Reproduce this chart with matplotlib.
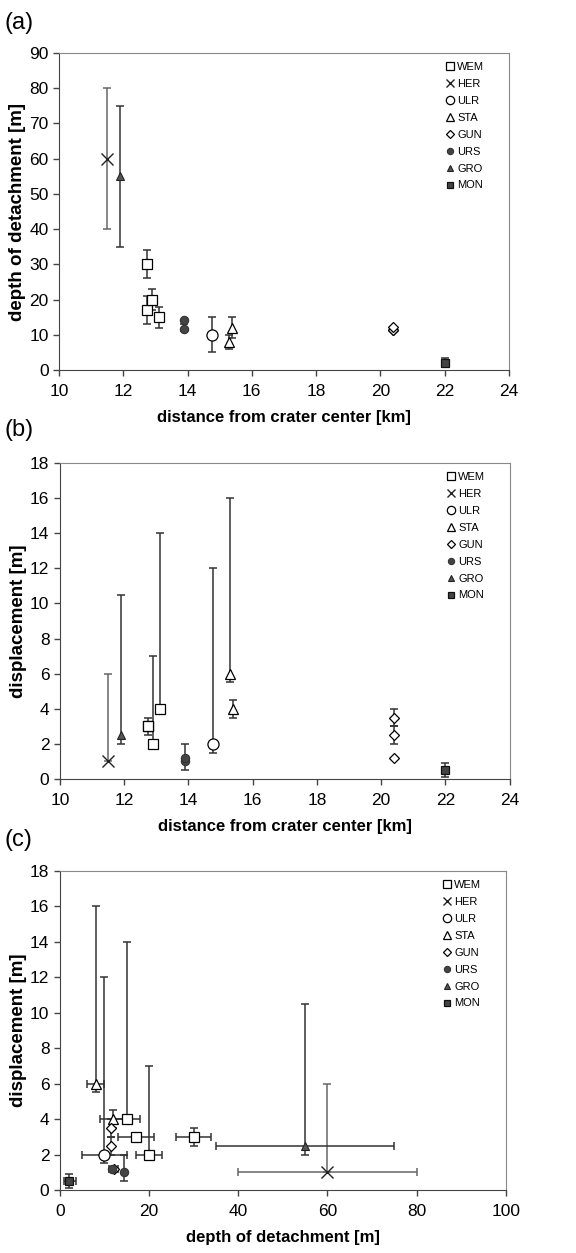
import matplotlib
matplotlib.use("Agg")
import matplotlib.pyplot as plt

plt.rcParams['font.family'] = ['Liberation Sans', 'DejaVu Sans']

# site data: distance [km], depth of detachment [m] (+range), displacement [m] (+range)
sites = ['WEM', 'HER', 'ULR', 'STA', 'GUN', 'URS', 'GRO', 'MON']

dist = {
    'WEM': [12.75, 12.75, 12.9, 13.1],
    'HER': [11.5],
    'ULR': [14.75],
    'STA': [15.3, 15.4],
    'GUN': [20.4, 20.4, 20.4],
    'URS': [13.9, 13.9],
    'GRO': [11.9],
    'MON': [22.0],
}
depth = {
    'WEM': [30, 17, 20, 15],
    'HER': [60],
    'ULR': [10],
    'STA': [8, 12],
    'GUN': [11.5, 11.5, 12.2],
    'URS': [14.3, 11.6],
    'GRO': [55],
    'MON': [2],
}
depth_lo = {
    'WEM': [26, 13, 17, 12],
    'HER': [40],
    'ULR': [5],
    'STA': [6, 9],
    'GUN': [11.5, 11.5, 12.2],
    'URS': [14.3, 11.0],
    'GRO': [35],
    'MON': [1],
}
depth_hi = {
    'WEM': [34, 21, 23, 18],
    'HER': [80],
    'ULR': [15],
    'STA': [10, 15],
    'GUN': [11.5, 11.5, 12.2],
    'URS': [14.3, 13.0],
    'GRO': [75],
    'MON': [3.5],
}
disp = {
    'WEM': [3, 3, 2, 4],
    'HER': [1],
    'ULR': [2],
    'STA': [6, 4],
    'GUN': [3.5, 2.5, 1.2],
    'URS': [1.0, 1.2],
    'GRO': [2.5],
    'MON': [0.5],
}
disp_lo = {
    'WEM': [2.5, 3, 2, 4],
    'HER': [1],
    'ULR': [1.5],
    'STA': [5.5, 3.5],
    'GUN': [3, 2, 1.2],
    'URS': [0.5, 1.2],
    'GRO': [2],
    'MON': [0.1],
}
disp_hi = {
    'WEM': [3.5, 3, 7, 14],
    'HER': [6],
    'ULR': [12],
    'STA': [16, 4.5],
    'GUN': [4, 3, 1.2],
    'URS': [2, 1.2],
    'GRO': [10.5],
    'MON': [0.9],
}

# marker styles
style = {
    'WEM': dict(marker='s', ms=7, mfc='white', mec='black', mew=0.9),
    'HER': dict(marker='x', ms=8, mfc='none', mec='#222222', mew=1.0),
    'ULR': dict(marker='o', ms=8, mfc='white', mec='black', mew=0.9),
    'STA': dict(marker='^', ms=7.5, mfc='white', mec='black', mew=0.9),
    'GUN': dict(marker='D', ms=5.5, mfc='white', mec='black', mew=0.9),
    'URS': dict(marker='o', ms=6, mfc='#444444', mec='#333333', mew=0.8),
    'GRO': dict(marker='^', ms=6, mfc='#555555', mec='#222222', mew=0.8),
    'MON': dict(marker='s', ms=5.5, mfc='#444444', mec='#111111', mew=0.9),
}
bar_color = {'HER': '#666666'}


def err(vals, lo, hi):
    return [[v - l for v, l in zip(vals, lo)], [h - v for v, h in zip(vals, hi)]]


def panel(ax, xkey, ykey, xlim, ylim, xticks, yticks, xlabel, ylabel):
    for s in sites:
        x = xkey[0][s]
        y = ykey[0][s]
        xe = err(x, xkey[1][s], xkey[2][s]) if xkey[1] is not None else None
        ye = err(y, ykey[1][s], ykey[2][s])
        ax.errorbar(x, y, xerr=xe, yerr=ye, fmt='none', ecolor=bar_color.get(s, '#333333'),
                    elinewidth=1.1, capsize=3, capthick=1.1, zorder=2)
        ax.plot(x, y, linestyle='none', label=s, zorder=3, **style[s])
    ax.set_xlim(*xlim)
    ax.set_ylim(*ylim)
    ax.set_xticks(xticks)
    ax.set_yticks(yticks)
    ax.tick_params(labelsize=12.5, length=4, width=1, color='#444444', direction='out')
    ax.tick_params(axis='x', pad=6)
    for side in ['top', 'right']:
        ax.spines[side].set_color('#888888')
    for side in ['bottom', 'left']:
        ax.spines[side].set_color('#444444')
    ax.set_xlabel(xlabel, fontsize=12, fontweight='bold', labelpad=8)
    ax.set_ylabel(ylabel, fontsize=13.5, fontweight='bold', labelpad=2)
    ax.legend(loc='upper right', bbox_to_anchor=(0.955, 0.985), frameon=False,
              fontsize=8, markerscale=0.75, handlelength=0.6, handletextpad=0.35,
              labelspacing=0.62, borderaxespad=0.0)


fig = plt.figure(figsize=(5.76, 12.53), dpi=100)
ax_a = fig.add_axes([0.1024, 0.7047, 0.781, 0.253])
ax_b = fig.add_axes([0.104, 0.3783, 0.781, 0.2522])
ax_c = fig.add_axes([0.104, 0.0503, 0.774, 0.2546])

panel(ax_a, (dist, None, None), (depth, depth_lo, depth_hi), (10, 24), (0, 90),
      range(10, 25, 2), range(0, 91, 10),
      'distance from crater center [km]', 'depth of detachment [m]')
panel(ax_b, (dist, None, None), (disp, disp_lo, disp_hi), (10, 24), (0, 18),
      range(10, 25, 2), range(0, 19, 2),
      'distance from crater center [km]', 'displacement [m]')
panel(ax_c, (depth, depth_lo, depth_hi), (disp, disp_lo, disp_hi), (0, 100), (0, 18),
      range(0, 101, 20), range(0, 19, 2),
      'depth of detachment [m]', 'displacement [m]')

fig.text(0.008, 0.982, '(a)', fontsize=17, va='center', ha='left')
fig.text(0.008, 0.657, '(b)', fontsize=17, va='center', ha='left')
fig.text(0.008, 0.330, '(c)', fontsize=17, va='center', ha='left')

fig.savefig('out.png', dpi=100)
